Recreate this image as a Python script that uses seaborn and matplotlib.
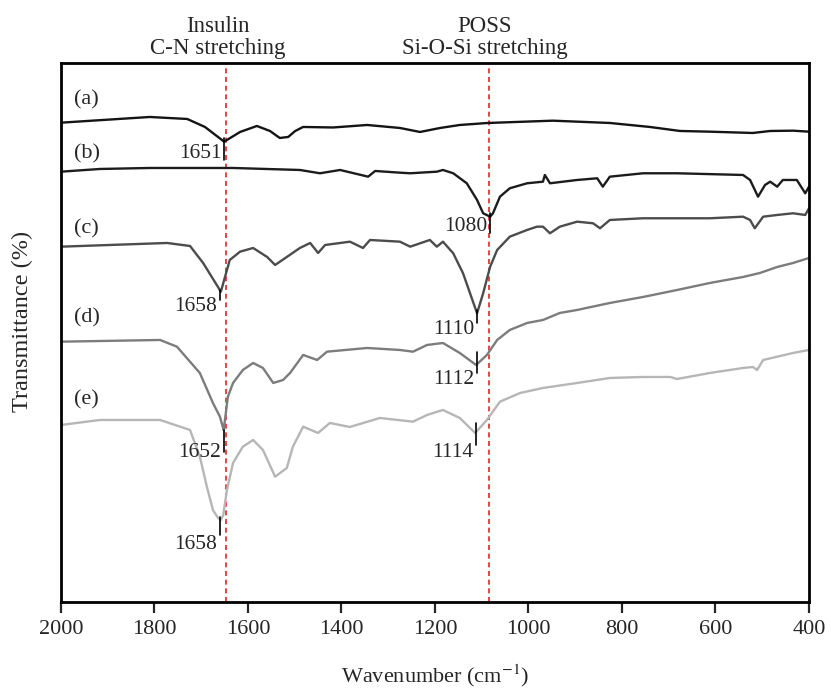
import numpy as np
import pandas as pd
import matplotlib
matplotlib.use("Agg")
import matplotlib.pyplot as plt
import matplotlib.transforms as mtransforms
import seaborn as sns

# ---------------- data (wavenumber, cm^-1 ; transmittance, arbitrary offset units) ----------------
a_wn = [2000, 1810, 1730, 1692, 1651, 1617, 1581, 1553, 1532, 1514, 1499, 1482, 1418, 1345, 1275,
        1232, 1189, 1147, 1087, 948, 826, 740, 676, 612, 520, 483, 434, 400]
a_tr = [479.3, 485, 483, 475, 460.3, 470, 476, 471, 464, 465, 471, 475, 474.5, 477, 474,
        470, 474, 477, 479, 481.3, 479, 475, 471, 470.3, 469, 471, 471.3, 470.3]

b_wn = [2000, 1917, 1810, 1632, 1489, 1446, 1403, 1343, 1328, 1275, 1253, 1196, 1183, 1161, 1132,
        1110, 1097, 1082, 1076, 1061, 1040, 1003, 969, 965, 954, 896, 853, 841, 826, 755, 682,
        541, 526, 509, 494, 483, 468, 456, 426, 408, 400]
b_tr = [430.3, 433, 434, 434, 432, 428.7, 432, 425.3, 431, 429.3, 428.7, 430.3, 432, 428.7, 418.7,
        402, 388.7, 385.3, 388.7, 405.3, 413.7, 418.7, 420.3, 427, 418.7, 422, 423.7, 415.3, 425.3,
        428.7, 428.7, 427, 422, 405.3, 417, 420.3, 415.3, 422, 422, 408.7, 415.3]

c_wn = [2000, 1773, 1724, 1696, 1658, 1639, 1617, 1589, 1559, 1542, 1517, 1489, 1467, 1450, 1435,
        1382, 1354, 1339, 1275, 1253, 1211, 1196, 1183, 1161, 1140, 1125, 1110, 1097, 1082, 1067,
        1040, 1003, 982, 969, 954, 933, 896, 862, 847, 826, 755, 612, 541, 526, 516, 498, 468,
        434, 408, 400]
c_tr = [355.3, 359, 356, 339, 310.3, 342, 350.3, 354, 345, 337, 345, 354, 359, 349, 357,
        360.3, 354, 362, 360.3, 355.3, 362, 355.3, 360.3, 348.7, 328.7, 308.7, 288.7, 308.7, 335.3, 352,
        365.3, 372, 375.3, 375.3, 368.7, 375.3, 380.3, 378.7, 373.7, 382, 383.7, 383.7, 385.3, 382,
        373.7, 385.3, 387, 388.7, 387, 393.7]

d_wn = [2000, 1788, 1752, 1703, 1675, 1660, 1654, 1652, 1643, 1632, 1611, 1589, 1568, 1546, 1525,
        1510, 1482, 1452, 1431, 1345, 1275, 1247, 1217, 1183, 1147, 1112, 1089, 1067, 1040, 1003,
        969, 933, 896, 826, 755, 682, 612, 541, 505, 468, 434, 400]
d_tr = [260.3, 262, 255.3, 229, 199, 185.3, 175.3, 172, 205.3, 219, 232, 239, 234, 219, 222,
        229, 247, 242, 250.3, 254, 252, 250.3, 257, 259, 249, 237, 247, 262, 272, 279,
        282, 289, 292, 299, 305, 312, 319, 325, 329, 335, 339, 344]

e_wn = [2000, 1917, 1788, 1724, 1703, 1688, 1675, 1664, 1658, 1653, 1645, 1632, 1611, 1589, 1568,
        1542, 1517, 1504, 1482, 1450, 1425, 1382, 1318, 1247, 1217, 1183, 1147, 1114, 1089, 1061,
        1018, 969, 896, 826, 755, 697, 682, 612, 541, 520, 511, 498, 434, 400]
e_tr = [177, 182, 182, 172, 145.3, 115.3, 92, 84, 82, 87, 112, 139, 155.3, 162, 152,
        125.3, 134, 155.3, 175.3, 169, 179, 175, 184, 180.3, 187, 192, 184, 169, 182, 200.3,
        209, 214, 219, 224, 225, 225, 223, 229, 234, 235, 232, 242, 249, 252]

series_names = ["(a)", "(b)", "(c)", "(d)", "(e)"]
series_label_y = [502, 448, 373, 284, 202]

# peak annotations: label, wavenumber, tick top, tick bottom, label y
peak_text = ["1651", "1080", "1658", "1110", "1112", "1652", "1114", "1658"]
peak_wn = [1651, 1082, 1660, 1110, 1110, 1651, 1112, 1660]
peak_tick_top = [464, 389, 312, 292, 250, 172, 179, 85]
peak_tick_bot = [442, 369, 302, 279, 229, 150, 157, 67]
peak_label_y = [448, 375, 295, 272, 222, 149, 149, 57]

ref_lines = [1647, 1085]
ref_text = ["Insulin\nC-N stretching", "POSS\nSi-O-Si stretching"]
ref_text_x = [1664, 1093]

x_ticks = [2000, 1800, 1600, 1400, 1200, 1000, 800, 600, 400]

# ---------------- style ----------------
sns.set_style("ticks")
plt.rcParams["font.family"] = ["Liberation Serif", "DejaVu Serif"]
plt.rcParams["mathtext.fontset"] = "stix"

fig = plt.figure(figsize=(8.31, 6.89), dpi=100)
ax = fig.add_axes([0.0734, 0.1263, 0.9001, 0.7823])

colors = ["#141414", "#1c1c1c", "#4c4c4c", "#7c7c7c", "#b6b6b6"]
all_wn = [a_wn, b_wn, c_wn, d_wn, e_wn]
all_tr = [a_tr, b_tr, c_tr, d_tr, e_tr]

for name, wn, tr, col in zip(series_names, all_wn, all_tr, colors):
    df = pd.DataFrame({"wn": wn, "tr": tr})
    sns.lineplot(data=df, x="wn", y="tr", color=col, linewidth=1.7, ax=ax,
                 estimator=None, sort=True)

for xv in ref_lines:
    ax.axvline(xv, color="#e8202a", linewidth=1.2, linestyle=(0, (3, 2.2)), zorder=1)

for name, yv in zip(series_names, series_label_y):
    ax.text(1972, yv, name, fontsize=16, ha="left", va="center")

for txt, xv, y0, y1, yl in zip(peak_text, peak_wn, peak_tick_top, peak_tick_bot, peak_label_y):
    ax.plot([xv, xv], [y0, y1], color="black", linewidth=1.2, zorder=5)
    ax.annotate(txt, xy=(xv, yl), xytext=(-2, 0), textcoords="offset points",
                ha="right", va="center", fontsize=15.5)

trans = mtransforms.blended_transform_factory(ax.transData, ax.transAxes)
for txt, xv in zip(ref_text, ref_text_x):
    ax.text(xv, 1.008, txt, transform=trans, ha="center", va="bottom", fontsize=16.5,
            linespacing=1.05)

ax.set_xlim(2000, 400)
ax.set_ylim(0, 539)
ax.set_xticks(x_ticks)
ax.set_xticklabels([str(t) for t in x_ticks], fontsize=16)
ax.set_yticks([])
ax.tick_params(axis="x", direction="out", length=8, width=1.6, pad=5)
for sp in ax.spines.values():
    sp.set_visible(True)
    sp.set_linewidth(2.0)
    sp.set_color("black")

ax.set_xlabel("Wavenumber (cm$^{-1}$)", fontsize=16, va="center")
ax.set_ylabel("Transmittance (%)", fontsize=17.5, va="center")
ax.xaxis.set_label_coords(0.5, -0.136)
ax.yaxis.set_label_coords(-0.051, 0.52)

fig.savefig("out.png", dpi=100)
